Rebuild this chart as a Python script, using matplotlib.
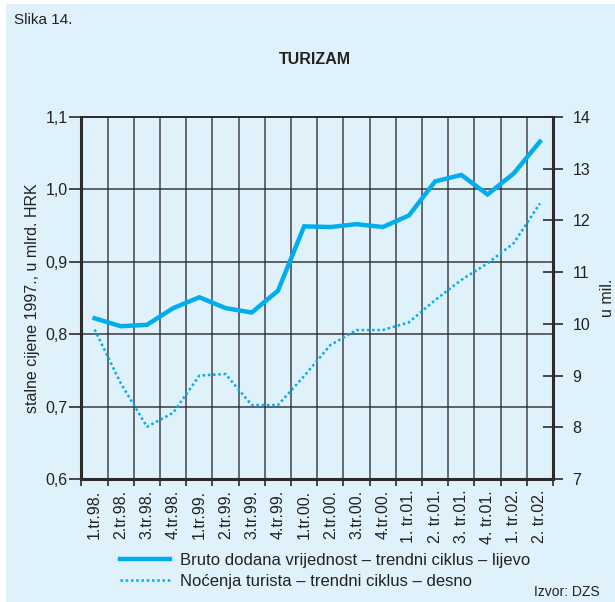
import matplotlib
matplotlib.use('Agg')
import matplotlib.pyplot as plt
from matplotlib.patches import Rectangle
import numpy as np

plt.rcParams['font.family'] = ['Liberation Sans', 'DejaVu Sans']

# kvartali
kvartali = ['1.tr.98.', '2.tr.98.', '3.tr.98.', '4.tr.98.',
            '1.tr.99.', '2.tr.99.', '3.tr.99.', '4.tr.99.',
            '1.tr.00.', '2.tr.00.', '3.tr.00.', '4.tr.00.',
            '1. tr.01.', '2. tr.01.', '3. tr.01.', '4. tr.01.',
            '1. tr.02.', '2. tr.02.']
# bruto dodana vrijednost - lijeva os (mlrd. HRK)
bdv = [0.822, 0.811, 0.813, 0.836, 0.851, 0.836, 0.830, 0.860, 0.949,
       0.948, 0.952, 0.948, 0.964, 1.011, 1.020, 0.993, 1.022, 1.066]
# nocenja turista - desna os (mil.)
nocenja = [9.89, 8.85, 8.01, 8.28, 9.00, 9.03, 8.43, 8.43, 8.99,
           9.59, 9.88, 9.88, 10.03, 10.46, 10.85, 11.17, 11.56, 12.33]

plava = '#00aeef'
pozadina = '#dff1fb'
mreza = '#2a2a2a'
tekst = '#222222'

fig = plt.figure(figsize=(6.15, 6.02), dpi=100)
fig.patch.set_facecolor('white')
fig.patches.append(Rectangle((6 / 615, 0), 1 - 6 / 615, 1 - 4 / 602, transform=fig.transFigure,
                             facecolor=pozadina, edgecolor='none', zorder=-10))

ax = fig.add_axes([81.5 / 615, 1 - 479 / 602, (553 - 81.5) / 615, (479 - 117) / 602])
ax.set_facecolor(pozadina)
x = np.arange(len(kvartali))

ax.set_xlim(-0.5, len(kvartali) - 0.5)
ax.set_ylim(0.6, 1.1)
ax.set_yticks([0.6, 0.7, 0.8, 0.9, 1.0, 1.1])
ax.set_yticklabels(['0,6', '0,7', '0,8', '0,9', '1,0', '1,1'], fontsize=11.5, color=tekst)

# vertikalne linije na granicama stupaca
granice = np.arange(-0.5, len(kvartali), 1.0)
ax.set_xticks(granice)
ax.set_xticklabels([''] * len(granice))
for g in granice[1:-1]:
    ax.axvline(g, color=mreza, lw=1.2, alpha=0.8, zorder=1)
for yv in [0.7, 0.8, 0.9, 1.0]:
    ax.axhline(yv, color=mreza, lw=1.2, alpha=0.85, zorder=1)

for k, lab in zip(x, kvartali):
    ax.text(k, -0.03, lab, transform=ax.get_xaxis_transform(), rotation=90,
            ha='center', va='top', fontsize=11.5, color=tekst)

ax.tick_params(axis='x', direction='out', length=5, width=1.2, color=mreza)
ax.tick_params(axis='y', direction='out', length=9, width=1.2, color=mreza, pad=1)
for s in ['left', 'bottom', 'right']:
    ax.spines[s].set_linewidth(2.2)
    ax.spines[s].set_color(mreza)
ax.spines['top'].set_linewidth(1.4)
ax.spines['top'].set_color(mreza)

l1, = ax.plot(x, bdv, color=plava, lw=3.2, zorder=3, solid_joinstyle='miter')
ax.set_ylabel('stalne cijene 1997., u mlrd. HRK', fontsize=11.5, color=tekst, labelpad=4)

ax2 = ax.twinx()
ax2.set_ylim(7, 14)
ax2.set_yticks(range(7, 15))
ax2.tick_params(axis='y', direction='inout', length=14, width=1.2, color=mreza, labelsize=11.5,
                labelcolor=tekst, pad=7)
for s in ax2.spines.values():
    s.set_visible(False)
l2, = ax2.plot(x, nocenja, color=plava, lw=1.8, ls=(0, (1, 1.1)), zorder=3)
ax2.set_ylabel('u mil.', fontsize=11.5, color=tekst, labelpad=7)

fig.text(14 / 615, 1 - 20 / 602, 'Slika 14.', fontsize=11, va='center', color=tekst)
fig.text(315 / 615, 1 - 60 / 602, 'TURIZAM', fontsize=11.5, fontweight='bold', ha='center',
         va='center', color=tekst)

fig.legend([l1, l2], ['Bruto dodana vrijednost – trendni ciklus – lijevo',
                      'Noćenja turista – trendni ciklus – desno'],
           loc='upper left', bbox_to_anchor=(113 / 615, 1 - 546 / 602), frameon=False,
           fontsize=12, handlelength=3.0, handletextpad=0.6, labelspacing=0.4,
           labelcolor=tekst, borderaxespad=0)

fig.text(600 / 615, 1 - 592 / 602, 'Izvor: DZS', fontsize=10, ha='right', va='center', color=tekst)

fig.savefig('out.png', dpi=100, facecolor=fig.get_facecolor())
